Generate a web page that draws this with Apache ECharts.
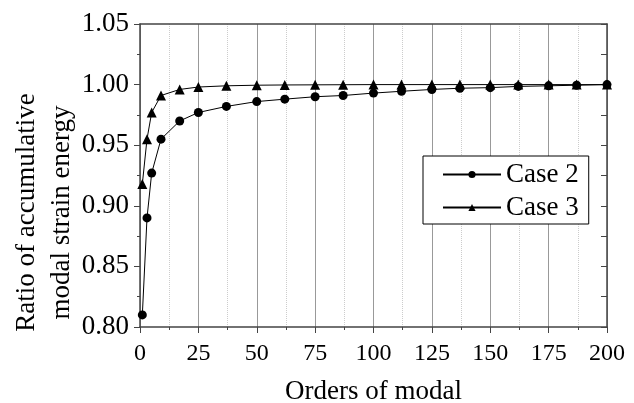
<!DOCTYPE html>
<html><head><meta charset="utf-8">
<script src="https://cdn.jsdelivr.net/npm/echarts@6/dist/echarts.min.js"></script>
<style>html,body{margin:0;padding:0;background:#fff}#c{width:634px;height:403px}</style>
</head><body><div id="c"></div>
<script>
var orders = [1,3,5,9,17,25,37,50,62,75,87,100,112,125,137,150,162,175,187,200];
var case2 = [0.810,0.890,0.927,0.955,0.970,0.977,0.982,0.986,0.988,0.990,0.991,0.993,0.9945,0.996,0.997,0.9975,0.9985,0.999,0.9995,1.000];
var case3 = [0.918,0.955,0.977,0.991,0.996,0.998,0.999,0.9995,0.9997,0.9998,0.9999,1.000,1.000,1.000,1.000,1.000,1.000,1.000,1.000,1.000];
var xTicks = [0,25,50,75,100,125,150,175,200];
var yTicks = [0.80,0.85,0.90,0.95,1.00,1.05];
var seriesNames = ['Case 2','Case 3'];
var xTitle = 'Orders of modal';
var yTitle = 'Ratio of accumulative\nmodal strain energy';

function pairs(xs, ys){ return xs.map(function(x,i){ return [x, ys[i]]; }); }
var font = 'Liberation Serif';
var axisColor = '#444';
var chart = echarts.init(document.getElementById('c'));
chart.setOption({
  animation: false,
  backgroundColor: '#fff',
  grid: {left: 140, right: 27, top: 24, bottom: 76, containLabel: false, outerBoundsMode: 'none'},
  legend: {
    data: seriesNames, orient: 'vertical', left: 423, top: 156,
    borderColor: '#000', borderWidth: 1, backgroundColor: '#fff',
    padding: [5, 10, 3, 19], itemGap: 6, itemWidth: 58, itemHeight: 9,
    textStyle: {fontFamily: font, fontSize: 27, color: '#000'}
  },
  xAxis: [{
    type: 'value', min: xTicks[0], max: xTicks[xTicks.length-1], interval: 25,
    name: xTitle, nameLocation: 'middle', nameGap: 51, nameMoveOverlap: false,
    nameTextStyle: {fontFamily: font, fontSize: 27, color: '#000'},
    axisLine: {show: true, onZero: false, lineStyle: {color: axisColor, width: 1.5}},
    axisTick: {show: true, inside: false, length: 6, lineStyle: {color: axisColor}},
    minorTick: {show: true, splitNumber: 2, length: 3, lineStyle: {color: axisColor}},
    axisLabel: {fontFamily: font, fontSize: 24, color: '#000', margin: 15},
    splitLine: {show: true, lineStyle: {color: '#999', width: 1}},
    minorSplitLine: {show: true, lineStyle: {color: '#ccc', type: 'dotted', width: 1}}
  },{
    type: 'value', position: 'top', min: xTicks[0], max: xTicks[xTicks.length-1], interval: 25,
    axisLine: {show: true, onZero: false, lineStyle: {color: axisColor, width: 1.5}},
    axisTick: {show: false}, axisLabel: {show: false}, splitLine: {show: false}
  }],
  yAxis: [{
    type: 'value', min: yTicks[0], max: yTicks[yTicks.length-1], interval: 0.05,
    name: yTitle, nameLocation: 'middle', nameGap: 61, nameMoveOverlap: false,
    nameTextStyle: {fontFamily: font, fontSize: 27, color: '#000', lineHeight: 35, padding: [0, 74, 0, 0]},
    axisLine: {show: true, onZero: false, lineStyle: {color: axisColor, width: 1.5}},
    axisTick: {show: true, inside: false, length: 6, lineStyle: {color: axisColor}},
    minorTick: {show: true, splitNumber: 2, length: 3, lineStyle: {color: axisColor}},
    axisLabel: {fontFamily: font, fontSize: 27, color: '#000', margin: 11, formatter: function(v){ return v.toFixed(2); }},
    splitLine: {show: false}
  },{
    type: 'value', position: 'right', min: yTicks[0], max: yTicks[yTicks.length-1], interval: 0.025,
    axisLine: {show: true, onZero: false, lineStyle: {color: axisColor, width: 1.5}},
    axisTick: {show: true, inside: true, length: 6, lineStyle: {color: axisColor}},
    axisLabel: {show: false}, splitLine: {show: false}
  }],
  series: [{
    name: seriesNames[0], type: 'line', data: pairs(orders, case2),
    symbol: 'circle', symbolSize: 9,
    lineStyle: {color: '#000', width: 1}, itemStyle: {color: '#000'}
  },{
    name: seriesNames[1], type: 'line', data: pairs(orders, case3),
    symbol: 'triangle', symbolSize: 10,
    lineStyle: {color: '#000', width: 1}, itemStyle: {color: '#000'}
  }]
});
</script></body></html>
